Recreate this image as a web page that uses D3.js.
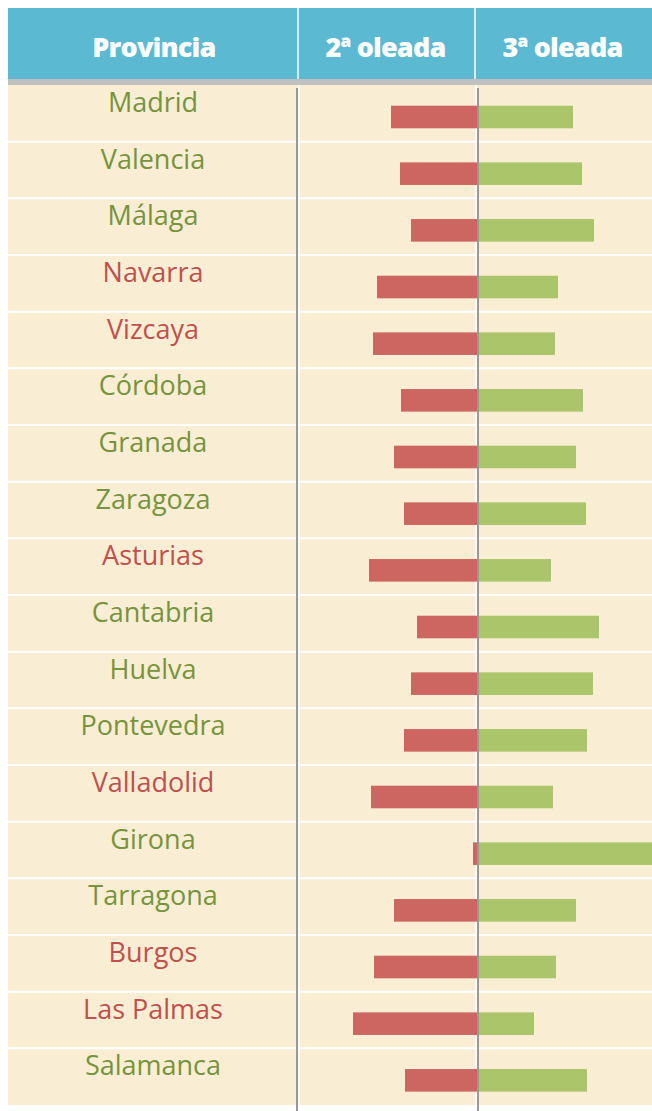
<!DOCTYPE html>
<html lang="es">
<head>
<meta charset="UTF-8">
<title>Oleadas por provincia</title>
<style>
  body { margin: 0; background: #fff; }
  svg { display: block; }
</style>
</head>
<body>
<script src="https://cdn.jsdelivr.net/npm/d3@7"></script>
<script>
  const provincias = ['Madrid', 'Valencia', 'Málaga', 'Navarra', 'Vizcaya', 'Córdoba', 'Granada', 'Zaragoza',
    'Asturias', 'Cantabria', 'Huelva', 'Pontevedra', 'Valladolid', 'Girona', 'Tarragona', 'Burgos',
    'Las Palmas', 'Salamanca'];
  const oleada2 = [87, 78, 67, 101, 105, 77, 84, 74, 109, 61, 67, 74, 107, 5, 84, 104, 125, 73];
  const oleada3 = [95, 104, 116, 80, 77, 105, 98, 108, 73, 121, 115, 109, 75, 190, 98, 78, 56, 109];
  // provincias marcadas en rojo
  const destacadas = ['Navarra', 'Vizcaya', 'Asturias', 'Valladolid', 'Burgos', 'Las Palmas'];
  const cabeceras = ['Provincia', '2ª oleada', '3ª oleada'];

  const svg_w = 652, svg_h = 1111;
  const left = 8, colA = 298, colB = 475;
  const head_top = 8, head_bot = 79, body_top = 85, body_bot = 1105;

  const svg = d3.select('body').append('svg')
    .attr('width', svg_w)
    .attr('height', svg_h);

  // header
  svg.append('rect')
    .attr('x', left).attr('y', head_top)
    .attr('width', svg_w - left).attr('height', head_bot - head_top)
    .attr('fill', '#5bb9d2');
  svg.append('rect')
    .attr('x', left).attr('y', head_bot)
    .attr('width', svg_w - left).attr('height', body_top - head_bot)
    .attr('fill', '#c0c0c0');

  const headX = [(left + colA) / 2 + 1, (colA + colB) / 2 - 1, (colB + svg_w) / 2 - 1];
  svg.selectAll('text.head')
    .data(cabeceras)
    .enter()
    .append('text')
    .attr('class', 'head')
    .attr('x', (d, i) => headX[i])
    .attr('y', 57)
    .attr('text-anchor', 'middle')
    .attr('font-family', 'Open Sans, sans-serif')
    .attr('font-weight', 800)
    .attr('font-size', '27px')
    .attr('letter-spacing', '-0.8px')
    .attr('fill', '#fff')
    .text(d => d);

  // body rows
  const y = d3.scaleBand()
    .domain(provincias)
    .range([body_top, body_bot]);

  svg.append('rect')
    .attr('x', left).attr('y', body_top)
    .attr('width', svg_w - left).attr('height', body_bot - body_top)
    .attr('fill', '#f9eed4');

  // cell borders
  svg.selectAll('line.row')
    .data(provincias.slice(1))
    .enter()
    .append('line')
    .attr('class', 'row')
    .attr('x1', left).attr('x2', svg_w)
    .attr('y1', d => y(d)).attr('y2', d => y(d))
    .attr('stroke', '#fff')
    .attr('stroke-width', 2);

  [colA, colB].forEach(cx => {
    svg.append('line')
      .attr('x1', cx).attr('x2', cx)
      .attr('y1', head_top).attr('y2', head_bot)
      .attr('stroke', '#fff').attr('stroke-width', 1.5);
    svg.append('line')
      .attr('x1', cx + 1).attr('x2', cx + 1)
      .attr('y1', body_top).attr('y2', body_bot)
      .attr('stroke', '#fff').attr('stroke-width', 1.5);
  });

  // labels
  svg.selectAll('text.prov')
    .data(provincias)
    .enter()
    .append('text')
    .attr('class', 'prov')
    .attr('x', 153)
    .attr('y', d => y(d) + 27)
    .attr('text-anchor', 'middle')
    .attr('font-family', 'Open Sans, sans-serif')
    .attr('font-size', '27px')
    .attr('fill', d => destacadas.includes(d) ? '#c0504d' : '#77933c')
    .text(d => d);

  // bars
  const x = d3.scaleLinear()
    .domain([-180, 175])
    .range([colA, svg_w + 1]);

  const barH = 22.6;
  const barOff = 20.7;

  svg.selectAll('rect.o2')
    .data(provincias)
    .enter()
    .append('rect')
    .attr('class', 'o2')
    .attr('x', (d, i) => x(-oleada2[i]))
    .attr('y', d => y(d) + barOff)
    .attr('width', (d, i) => x(0) - x(-oleada2[i]))
    .attr('height', barH)
    .attr('fill', '#cd6660');

  svg.selectAll('rect.o3')
    .data(provincias)
    .enter()
    .append('rect')
    .attr('class', 'o3')
    .attr('x', x(0))
    .attr('y', d => y(d) + barOff)
    .attr('width', (d, i) => x(oleada3[i]) - x(0))
    .attr('height', barH)
    .attr('fill', '#abc56b');

  // axis lines
  [colA - 1, x(0)].forEach(cx => {
    svg.append('line')
      .attr('x1', cx).attr('x2', cx)
      .attr('y1', 88).attr('y2', svg_h)
      .attr('stroke', '#999').attr('stroke-width', 2);
  });
</script>
</body>
</html>
